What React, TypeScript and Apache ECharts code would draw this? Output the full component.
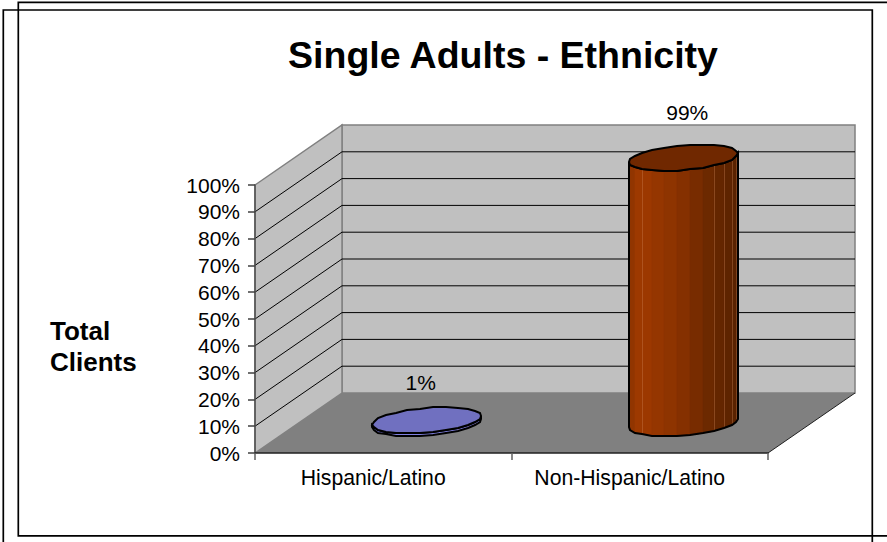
import React, { useEffect, useRef } from "react";
import * as echarts from "echarts";

// Chart content
const chartTitle = "Single Adults - Ethnicity";
const axisTitle = "Total\nClients";
const categories = ["Hispanic/Latino", "Non-Hispanic/Latino"];
const shares = [1, 99];
const wallTicks = [0, 10, 20, 30, 40, 50, 60, 70, 80, 90, 100];

// Oblique projection of the plot box and its cylinders
const DEPTH_X = 87;
const DEPTH_Y = -60;
const RADIUS_X = 54.5;
const RADIUS_Y = 12.4;
const SHEAR = -4.3;
const SIDES = 26;
const FONT = "'Liberation Sans', Arial, sans-serif";

// Facet edges that catch the light on the cylinder wall
const seamSteps = [1, 2, 3, 4, 10];

const topFill = ["#7070c0", "#702800"];
const sideStops = [
  [["#8080e0", 0], ["#8080e0", 1]],
  [["#8a3300", 0], ["#a03a00", 0.1], ["#8a3200", 0.45], ["#6a2800", 0.75], ["#582200", 1]],
] as [string, number][][];

function mix(stops: [string, number][], t: number) {
  const toRgb = (h: string) => [1, 3, 5].map((i) => parseInt(h.slice(i, i + 2), 16));
  for (let i = 1; i < stops.length; i++) {
    if (t <= stops[i][1]) {
      const a = toRgb(stops[i - 1][0]);
      const b = toRgb(stops[i][0]);
      const k = (t - stops[i - 1][1]) / (stops[i][1] - stops[i - 1][1] || 1);
      return `rgb(${a.map((c, j) => Math.round(c + (b[j] - c) * k)).join(",")})`;
    }
  }
  return stops[stops.length - 1][0];
}

function rimPoint(cx: number, cy: number, angle: number) {
  return [
    Math.round(cx + RADIUS_X * Math.cos(angle)),
    Math.round(cy + RADIUS_Y * Math.sin(angle) + SHEAR * Math.cos(angle)),
  ];
}

function renderPlotBox(params: any, api: any) {
  const sys = params.coordSys;
  const x0 = sys.x;
  const x1 = sys.x + sys.width;
  const yLow = api.coord([0, 0])[1];
  const yHigh = api.coord([0, 100])[1];
  const wall = { fill: "#c0c0c0", stroke: "#808080", lineWidth: 1.5 };
  return {
    type: "group",
    children: [
      {
        type: "polygon",
        shape: { points: [[x0 + DEPTH_X, yHigh + DEPTH_Y], [x1 + DEPTH_X, yHigh + DEPTH_Y], [x1 + DEPTH_X, yLow + DEPTH_Y], [x0 + DEPTH_X, yLow + DEPTH_Y]] },
        style: wall,
      },
      {
        type: "polygon",
        shape: { points: [[x0, yHigh], [x0 + DEPTH_X, yHigh + DEPTH_Y], [x0 + DEPTH_X, yLow + DEPTH_Y], [x0, yLow]] },
        style: wall,
      },
      {
        type: "polygon",
        shape: { points: [[x0, yLow], [x0 + DEPTH_X, yLow + DEPTH_Y], [x1 + DEPTH_X, yLow + DEPTH_Y], [x1, yLow]] },
        style: { fill: "#808080" },
      },
      {
        type: "line",
        shape: { x1, y1: yLow, x2: x1 + DEPTH_X, y2: yLow + DEPTH_Y },
        style: { stroke: "#202020", lineWidth: 1 },
      },
    ],
  };
}

function renderGridLine(params: any, api: any) {
  const sys = params.coordSys;
  const value = api.value(0);
  const y = api.coord([0, value])[1];
  if (value === 0 || value === 100) return { type: "group", children: [] };
  const stroke = { stroke: "#000000", lineWidth: 1 };
  return {
    type: "group",
    children: [
      { type: "line", shape: { x1: sys.x, y1: y, x2: sys.x + DEPTH_X, y2: y + DEPTH_Y }, style: stroke },
      { type: "line", shape: { x1: sys.x + DEPTH_X, y1: y + DEPTH_Y, x2: sys.x + sys.width + DEPTH_X, y2: y + DEPTH_Y }, style: stroke },
    ],
  };
}

function renderCylinder(params: any, api: any) {
  const index = api.value(0);
  const value = api.value(1);
  const base = api.coord([index, 0]);
  const head = api.coord([index, value]);
  const cx = base[0] + DEPTH_X / 2;
  const baseY = base[1] + DEPTH_Y / 2;
  const headY = head[1] + DEPTH_Y / 2;

  const angles: number[] = [];
  for (let i = 0; i <= SIDES; i++) angles.push((Math.PI * 2 * i) / SIDES);

  // Front half of the wall, one facet per side, shaded from left to right
  const facets: any[] = [];
  for (let i = 0; i < SIDES / 2; i++) {
    const a = angles[SIDES / 2 - i];
    const b = angles[SIDES / 2 - i - 1];
    const t = (1 - Math.cos((a + b) / 2)) / 2;
    const shade = mix(sideStops[index], 1 - t);
    facets.push({
      type: "polygon",
      shape: { points: [rimPoint(cx, baseY, a), rimPoint(cx, baseY, b), rimPoint(cx, headY, b), rimPoint(cx, headY, a)] },
      style: { fill: shade, stroke: shade, lineWidth: 0.6 },
    });
  }
  const seams = seamSteps.map((step) => {
    const low = rimPoint(cx, baseY, angles[step]);
    const high = rimPoint(cx, headY, angles[step]);
    return {
      type: "line",
      shape: { x1: low[0] + 0.5, y1: low[1], x2: high[0] + 0.5, y2: high[1] },
      style: { stroke: "#d08a5a", opacity: 0.35, lineWidth: 1 },
    };
  });

  const frontRim = angles.slice(0, SIDES / 2 + 1);
  const outline = [
    ...frontRim.map((a) => rimPoint(cx, baseY, a)),
    ...frontRim.slice().reverse().map((a) => rimPoint(cx, headY, a)),
  ];
  const labelX = index === 0 ? cx - 6 : cx + 4;
  const labelY = index === 0 ? headY - 38 : headY - 45;

  return {
    type: "group",
    children: [
      ...facets,
      ...seams,
      { type: "polygon", shape: { points: outline }, style: { fill: "none", stroke: "#000", lineWidth: 2 } },
      {
        type: "polygon",
        shape: { points: angles.slice(0, SIDES).map((a) => rimPoint(cx, headY, a)) },
        style: { fill: topFill[index], stroke: "#000", lineWidth: 2 },
      },
      {
        type: "text",
        x: labelX,
        y: labelY,
        style: { text: `${value}%`, fill: "#000", font: `21px ${FONT}`, align: "center", verticalAlign: "middle" },
      },
    ],
  };
}

export default function App() {
  const hostRef = useRef<HTMLDivElement>(null);

  useEffect(() => {
    const chart = echarts.init(hostRef.current!, undefined, { renderer: "svg" });
    chart.setOption({
      animation: false,
      backgroundColor: "#ffffff",
      textStyle: { fontFamily: FONT },
      title: [
        {
          text: chartTitle,
          left: 498,
          textAlign: "center",
          top: 31,
          textStyle: { fontFamily: FONT, fontSize: 37.5, fontWeight: "bold", color: "#000" },
        },
        {
          text: axisTitle,
          left: 45,
          top: 310,
          textStyle: { fontFamily: FONT, fontSize: 26, fontWeight: "bold", color: "#000", lineHeight: 31 },
        },
      ],
      grid: { left: 255, right: 119, top: 185, bottom: 89 },
      xAxis: {
        type: "category",
        data: categories,
        z: 2,
        axisLine: { lineStyle: { color: "#202020", width: 1.5 } },
        axisTick: { show: true, length: 7, alignWithLabel: false, lineStyle: { color: "#606060", width: 1.5 } },
        axisLabel: { color: "#000", fontFamily: FONT, fontSize: 21.2, margin: 14, padding: [0, 20, 0, 0] },
        splitLine: { show: false },
      },
      yAxis: {
        type: "value",
        min: 0,
        max: 100,
        interval: 10,
        z: 2,
        axisLine: { show: true, lineStyle: { color: "#505050", width: 1.5 } },
        axisTick: { show: true, length: 7, lineStyle: { color: "#404040", width: 1.5 } },
        axisLabel: { color: "#000", fontFamily: FONT, fontSize: 21, margin: 15, padding: [0, 0, 2, 0], formatter: "{value}%" },
        splitLine: { show: false },
      },
      series: [
        { type: "custom", z: 1, data: [[0]], encode: { y: 0 }, renderItem: renderPlotBox, silent: true },
        { type: "custom", z: 1, data: wallTicks.map((v) => [v]), encode: { y: 0 }, renderItem: renderGridLine, silent: true },
        {
          type: "custom",
          z: 3,
          data: categories.map((_, i) => [i, shares[i]]),
          encode: { x: 0, y: 1 },
          renderItem: renderCylinder,
          silent: true,
        },
      ],
      graphic: [
        { type: "rect", z: 10, silent: true, shape: { x: 18.3, y: 2.3, width: 900, height: 533.5 }, style: { fill: "none", stroke: "#000", lineWidth: 1.7 } },
        { type: "rect", z: 10, silent: true, shape: { x: 3.3, y: 10, width: 869, height: 560 }, style: { fill: "none", stroke: "#000", lineWidth: 1.7 } },
      ],
    });
    return () => chart.dispose();
  }, []);

  return <div ref={hostRef} style={{ position: "fixed", left: 0, top: 0, width: 887, height: 542 }} />;
}
